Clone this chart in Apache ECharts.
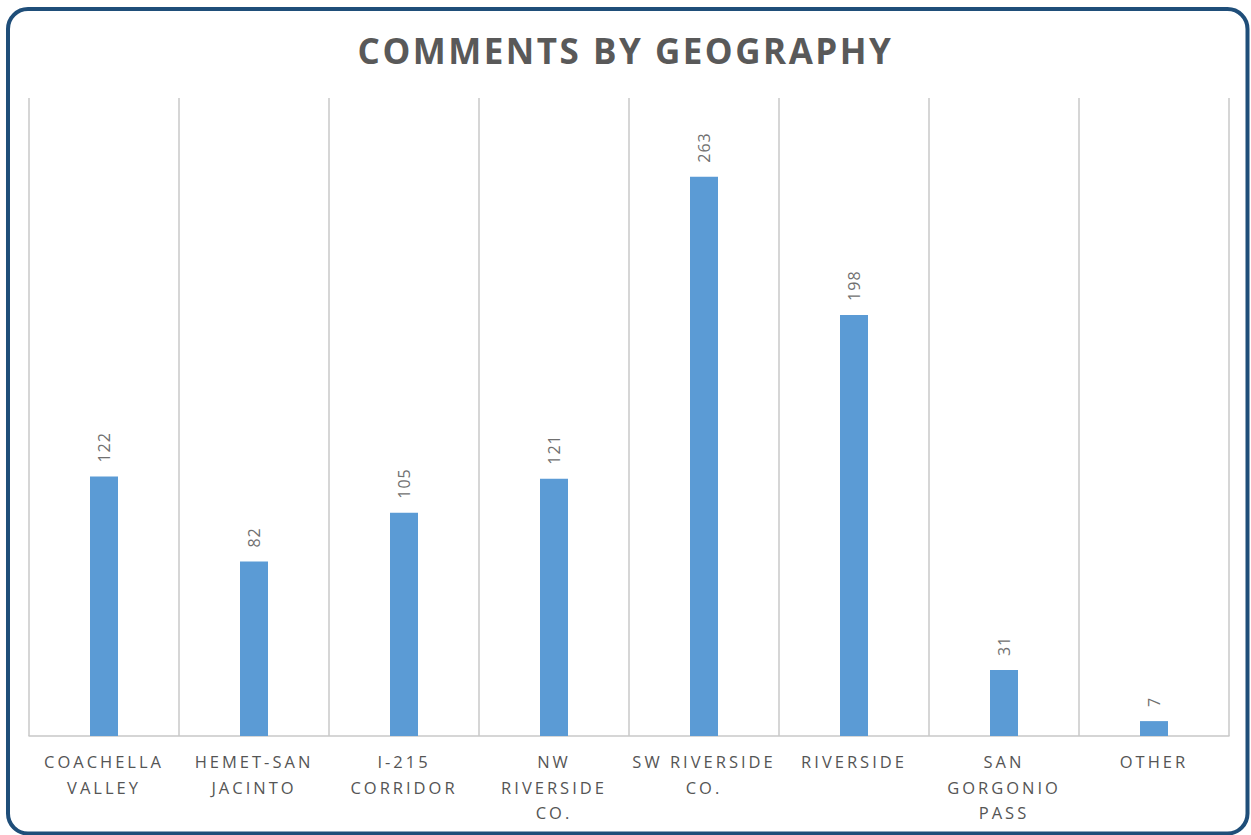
<!DOCTYPE html>
<html>
<head>
<meta charset="utf-8">
<script src="https://cdn.jsdelivr.net/npm/echarts@6/dist/echarts.min.js"></script>
<style>
html,body{margin:0;padding:0;background:#fff;}
#chart{width:1251px;height:835px;}
#chart svg text[style*="35px"]{letter-spacing:2.5px;}
#chart svg text[style*="16.5px"]{letter-spacing:3px;}
#chart svg text[style*="16px"]{letter-spacing:1px;}
</style>
</head>
<body>
<div id="chart"></div>
<script>
const titleText = 'COMMENTS BY GEOGRAPHY';
const categories = ['COACHELLA\nVALLEY', 'HEMET-SAN\nJACINTO', 'I-215\nCORRIDOR', 'NW\nRIVERSIDE\nCO.', 'SW RIVERSIDE\nCO.', 'RIVERSIDE', 'SAN\nGORGONIO\nPASS', 'OTHER'];
const comments = [122, 82, 105, 121, 263, 198, 31, 7];
const yMax = 300;

const chart = echarts.init(document.getElementById('chart'), null, {renderer: 'svg'});
chart.setOption({
  animation: false,
  backgroundColor: '#ffffff',
  textStyle: {fontFamily: 'Open Sans'},
  title: {
    text: titleText,
    left: 'center',
    top: 28,
    textStyle: {fontFamily: 'Open Sans', fontWeight: 'bold', fontSize: 35, color: '#595959'}
  },
  graphic: [{
    type: 'rect',
    shape: {x: 8, y: 9, width: 1239.5, height: 824.5, r: 20},
    style: {fill: 'none', stroke: '#1F4E79', lineWidth: 4},
    silent: true,
    z: 100
  }],
  grid: {left: 29, right: 22, top: 98, bottom: 99, containLabel: false},
  xAxis: {
    type: 'category',
    data: categories,
    boundaryGap: true,
    axisLine: {show: true, lineStyle: {color: '#c8c8c8', width: 1.5}},
    axisTick: {show: false},
    splitLine: {show: true, interval: 0, lineStyle: {color: '#c8c8c8', width: 1.5}},
    axisLabel: {
      interval: 0,
      margin: 13,
      fontFamily: 'Open Sans',
      fontSize: 16.5,
      lineHeight: 25.5,
      color: '#555555'
    }
  },
  yAxis: {
    type: 'value',
    min: 0,
    max: yMax,
    show: false,
    splitLine: {show: false}
  },
  series: [{
    type: 'bar',
    data: comments,
    barWidth: 28,
    itemStyle: {color: '#5B9BD5'},
    label: {
      show: true,
      position: 'top',
      rotate: 90,
      align: 'left',
      verticalAlign: 'middle',
      distance: 14,
      fontFamily: 'Open Sans',
      fontSize: 16,
      color: '#707070'
    }
  }]
});
</script>
</body>
</html>
